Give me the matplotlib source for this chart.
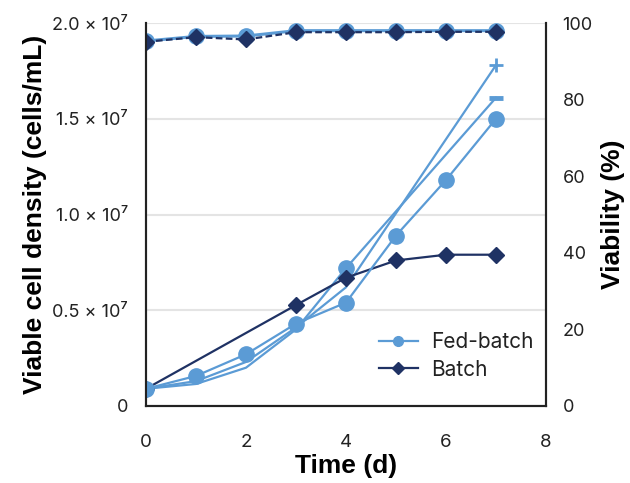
import matplotlib
matplotlib.use("Agg")
import matplotlib.pyplot as plt
from matplotlib.lines import Line2D

# --- data ---
days = [0, 1, 2, 3, 4, 5, 6, 7]
fed_a_vcd = [0.09e7, 0.157e7, 0.27e7, 0.43e7, 0.54e7, 0.89e7, 1.18e7, 1.50e7]   # circles
fed_b_days = [0, 1, 2, 3, 4, 7]
fed_b_vcd = [0.09e7, 0.13e7, 0.23e7, 0.41e7, 0.62e7, 1.78e7]                      # "+" end
fed_c_days = [0, 1, 2, 3, 4, 7]
fed_c_vcd = [0.09e7, 0.115e7, 0.20e7, 0.40e7, 0.72e7, 1.61e7]                     # "-" end
batch_days = [0, 3, 4, 5, 6, 7]
batch_vcd = [0.09e7, 0.527e7, 0.67e7, 0.76e7, 0.79e7, 0.79e7]

fed_via = [95.3, 96.5, 96.6, 98.0, 98.0, 98.0, 98.0, 98.0]
batch_via = [95.1, 96.3, 95.7, 97.6, 97.6, 97.6, 97.7, 97.7]

vcd_ticks = [0, 0.5e7, 1.0e7, 1.5e7, 2.0e7]
vcd_labels = ["0", "0.5 × 10⁷", "1.0 × 10⁷", "1.5 × 10⁷", "2.0 × 10⁷"]
via_ticks = [0, 20, 40, 60, 80, 100]
x_ticks = [0, 2, 4, 6, 8]

LIGHT = "#5b9bd5"
DARK = "#1f3264"
TICKFONT = ["Inter", "DejaVu Sans"]
LABELFONT = ["Liberation Sans", "DejaVu Sans"]

fig = plt.figure(figsize=(6.3, 4.83), dpi=100)
ax = fig.add_axes([146 / 630, 1 - 406 / 483, 400 / 630, 383 / 483])
ax2 = ax.twinx()

# viable cell density
ax.plot(fed_c_days, fed_c_vcd, color=LIGHT, lw=1.6, marker="o", ms=11,
        markevery=[4], zorder=3)
ax.plot(fed_c_days[-1:], fed_c_vcd[-1:], color=LIGHT, marker="_", ms=10, mew=3.5,
        ls="none", zorder=3)
ax.plot(fed_b_days, fed_b_vcd, color=LIGHT, lw=1.6, zorder=3)
ax.plot(fed_b_days[-1:], fed_b_vcd[-1:], color=LIGHT, marker="+", ms=10, mew=2,
        ls="none", zorder=3)
ax.plot(batch_days, batch_vcd, color=DARK, lw=1.6, marker="D", ms=8.5, zorder=4)
ax.plot(days, fed_a_vcd, color=LIGHT, lw=1.6, marker="o", ms=11, zorder=5)

# viability
ax2.plot(days, fed_via, color=LIGHT, lw=2.2, marker="o", ms=11)
ax2.plot(days, batch_via, color=DARK, lw=1.6, ls=(0, (3, 1.5)), marker="D", ms=8.5)

ax.set_xlim(0, 8)
ax.set_ylim(0, 2.0e7)
ax2.set_ylim(0, 100)
ax.set_xticks(x_ticks)
ax.set_yticks(vcd_ticks)
ax.set_yticklabels(vcd_labels)
ax2.set_yticks(via_ticks)

ax.grid(axis="y", color="#e4e4e4", lw=1.5)
ax.set_axisbelow(True)
for a in (ax, ax2):
    a.spines["top"].set_visible(False)
    for s in ("left", "right", "bottom"):
        a.spines[s].set_linewidth(1.5)
        a.spines[s].set_color("#222222")
    a.tick_params(length=0, labelsize=13, colors="#222222")
ax.tick_params(axis="y", pad=13)
ax.tick_params(axis="x", pad=20, labelsize=13.5)
ax2.tick_params(axis="y", pad=12)
for lab in ax.get_xticklabels() + ax.get_yticklabels() + ax2.get_yticklabels():
    lab.set_family(TICKFONT)

ax.set_xlabel("Time (d)", fontsize=19, fontweight="bold", family=LABELFONT, labelpad=2)
ax.set_ylabel("Viable cell density (cells/mL)", fontsize=19, fontweight="bold",
              family=LABELFONT, labelpad=4)
ax2.set_ylabel("Viability (%)", fontsize=19, fontweight="bold", family=LABELFONT,
               labelpad=6)

handles = [Line2D([], [], color=LIGHT, lw=1.6, marker="o", ms=7),
           Line2D([], [], color=DARK, lw=1.6, marker="D", ms=6)]
leg = ax2.legend(handles, ["Fed-batch", "Batch"], loc="lower right",
                 bbox_to_anchor=(1.015, 0.02), frameon=False,
                 prop={"family": TICKFONT, "size": 15}, handlelength=1.9,
                 handletextpad=0.6, labelspacing=0.35)
for t in leg.get_texts():
    t.set_color("#222222")

fig.savefig("out.png", dpi=100)
